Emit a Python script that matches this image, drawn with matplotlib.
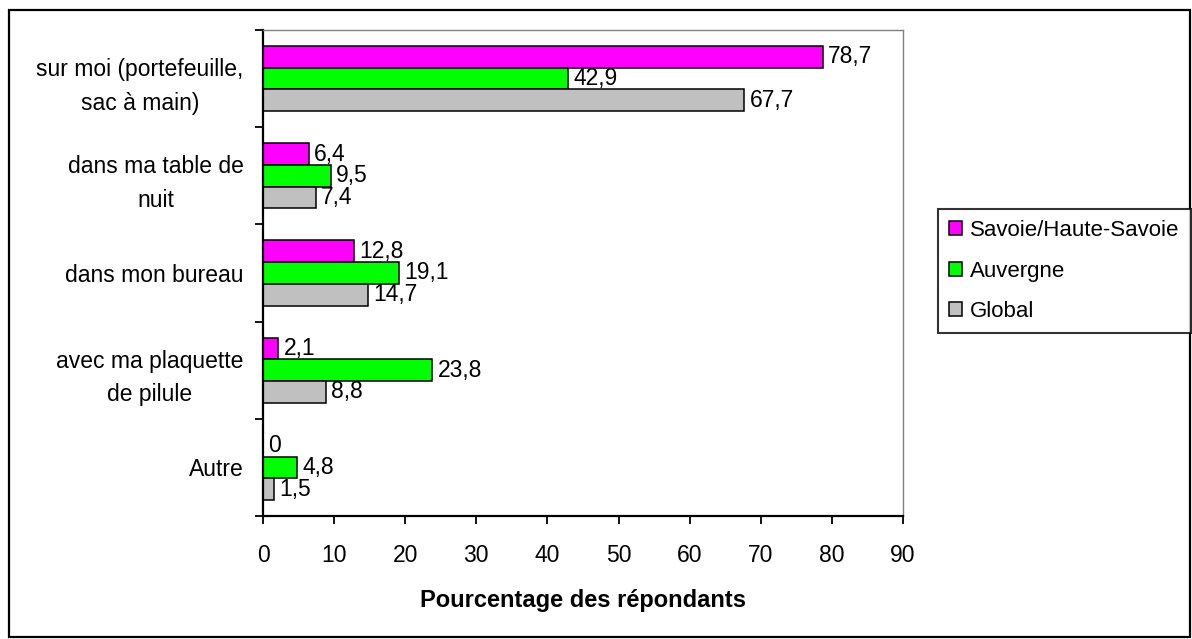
import matplotlib
matplotlib.use("Agg")
import matplotlib.pyplot as plt
from matplotlib.patches import Rectangle, Patch
import numpy as np

plt.rcParams['font.family'] = ['Liberation Sans', 'DejaVu Sans']

categories = ["sur moi (portefeuille,\nsac à main)", "dans ma table de\nnuit",
              "dans mon bureau", "avec ma plaquette\nde pilule", "Autre"]
series_names = ["Savoie/Haute-Savoie", "Auvergne", "Global"]
savoie = [78.7, 6.4, 12.8, 2.1, 0]
auvergne = [42.9, 9.5, 19.1, 23.8, 4.8]
global_ = [67.7, 7.4, 14.7, 8.8, 1.5]
colors = ["#FF00FF", "#00FF00", "#C0C0C0"]
xticks = [0, 10, 20, 30, 40, 50, 60, 70, 80, 90]

W, H = 1192, 639
fig = plt.figure(figsize=(W / 100, H / 100), dpi=100)
ax = fig.add_axes([263 / W, 1 - 516 / H, (903 - 263) / W, (516 - 30) / H])

y = np.arange(len(categories))
bh = 0.223
offsets = [-bh, 0, bh]
series = [savoie, auvergne, global_]
for vals, off, col, name in zip(series, offsets, colors, series_names):
    ax.barh(y + off, vals, height=bh, color=col, edgecolor='black',
            linewidth=1.1, label=name)
    for v, yy in zip(vals, y + off):
        ax.annotate(f"{v:g}".replace('.', ','), xy=(v, yy), xytext=(4, 0),
                    textcoords='offset points', ha='left', va='center',
                    fontsize=16.5)

ax.set_xlim(0, 90)
ax.set_ylim(len(categories) - 0.5, -0.5)
ax.set_xticks(xticks)
ax.set_xticklabels([str(t) for t in xticks], fontsize=16.5)
ax.set_yticks(y)
ax.set_yticklabels(categories, fontsize=16.5, multialignment='center', linespacing=1.6)
ax.set_yticks(np.arange(-0.5, len(categories), 1.0), minor=True)
ax.tick_params(axis='y', which='major', length=0, pad=14)
ax.tick_params(axis='y', which='minor', length=6, width=1.3, direction='out')
ax.tick_params(axis='x', which='major', length=6, width=1.3, direction='out', pad=14)

for s in ['left', 'bottom']:
    ax.spines[s].set_linewidth(1.6)
    ax.spines[s].set_color('black')
for s in ['top', 'right']:
    ax.spines[s].set_linewidth(1.0)
    ax.spines[s].set_color('#808080')

ax.set_xlabel("Pourcentage des répondants", fontsize=17, fontweight='bold')
ax.xaxis.set_label_coords(0.5, (516 - 600) / (516 - 30))
ax.xaxis.label.set_verticalalignment('center')

handles = [Patch(facecolor=c, edgecolor='black', linewidth=1.1) for c in colors]
leg = fig.legend(handles, series_names, loc='upper left',
                 bbox_to_anchor=(938 / W, 1 - 209 / H), borderaxespad=0,
                 fontsize=16, frameon=True, fancybox=False,
                 handlelength=0.6, handleheight=0.6, handletextpad=0.35,
                 labelspacing=0.88, borderpad=0.5)
leg.get_frame().set_edgecolor('black')
leg.get_frame().set_linewidth(1.5)

fig.patches.append(Rectangle((9 / W, 1 - 637 / H), (1190 - 9) / W, (637 - 10) / H,
                             transform=fig.transFigure, fill=False,
                             edgecolor='black', linewidth=1.6))

fig.savefig("out.png", dpi=100)
